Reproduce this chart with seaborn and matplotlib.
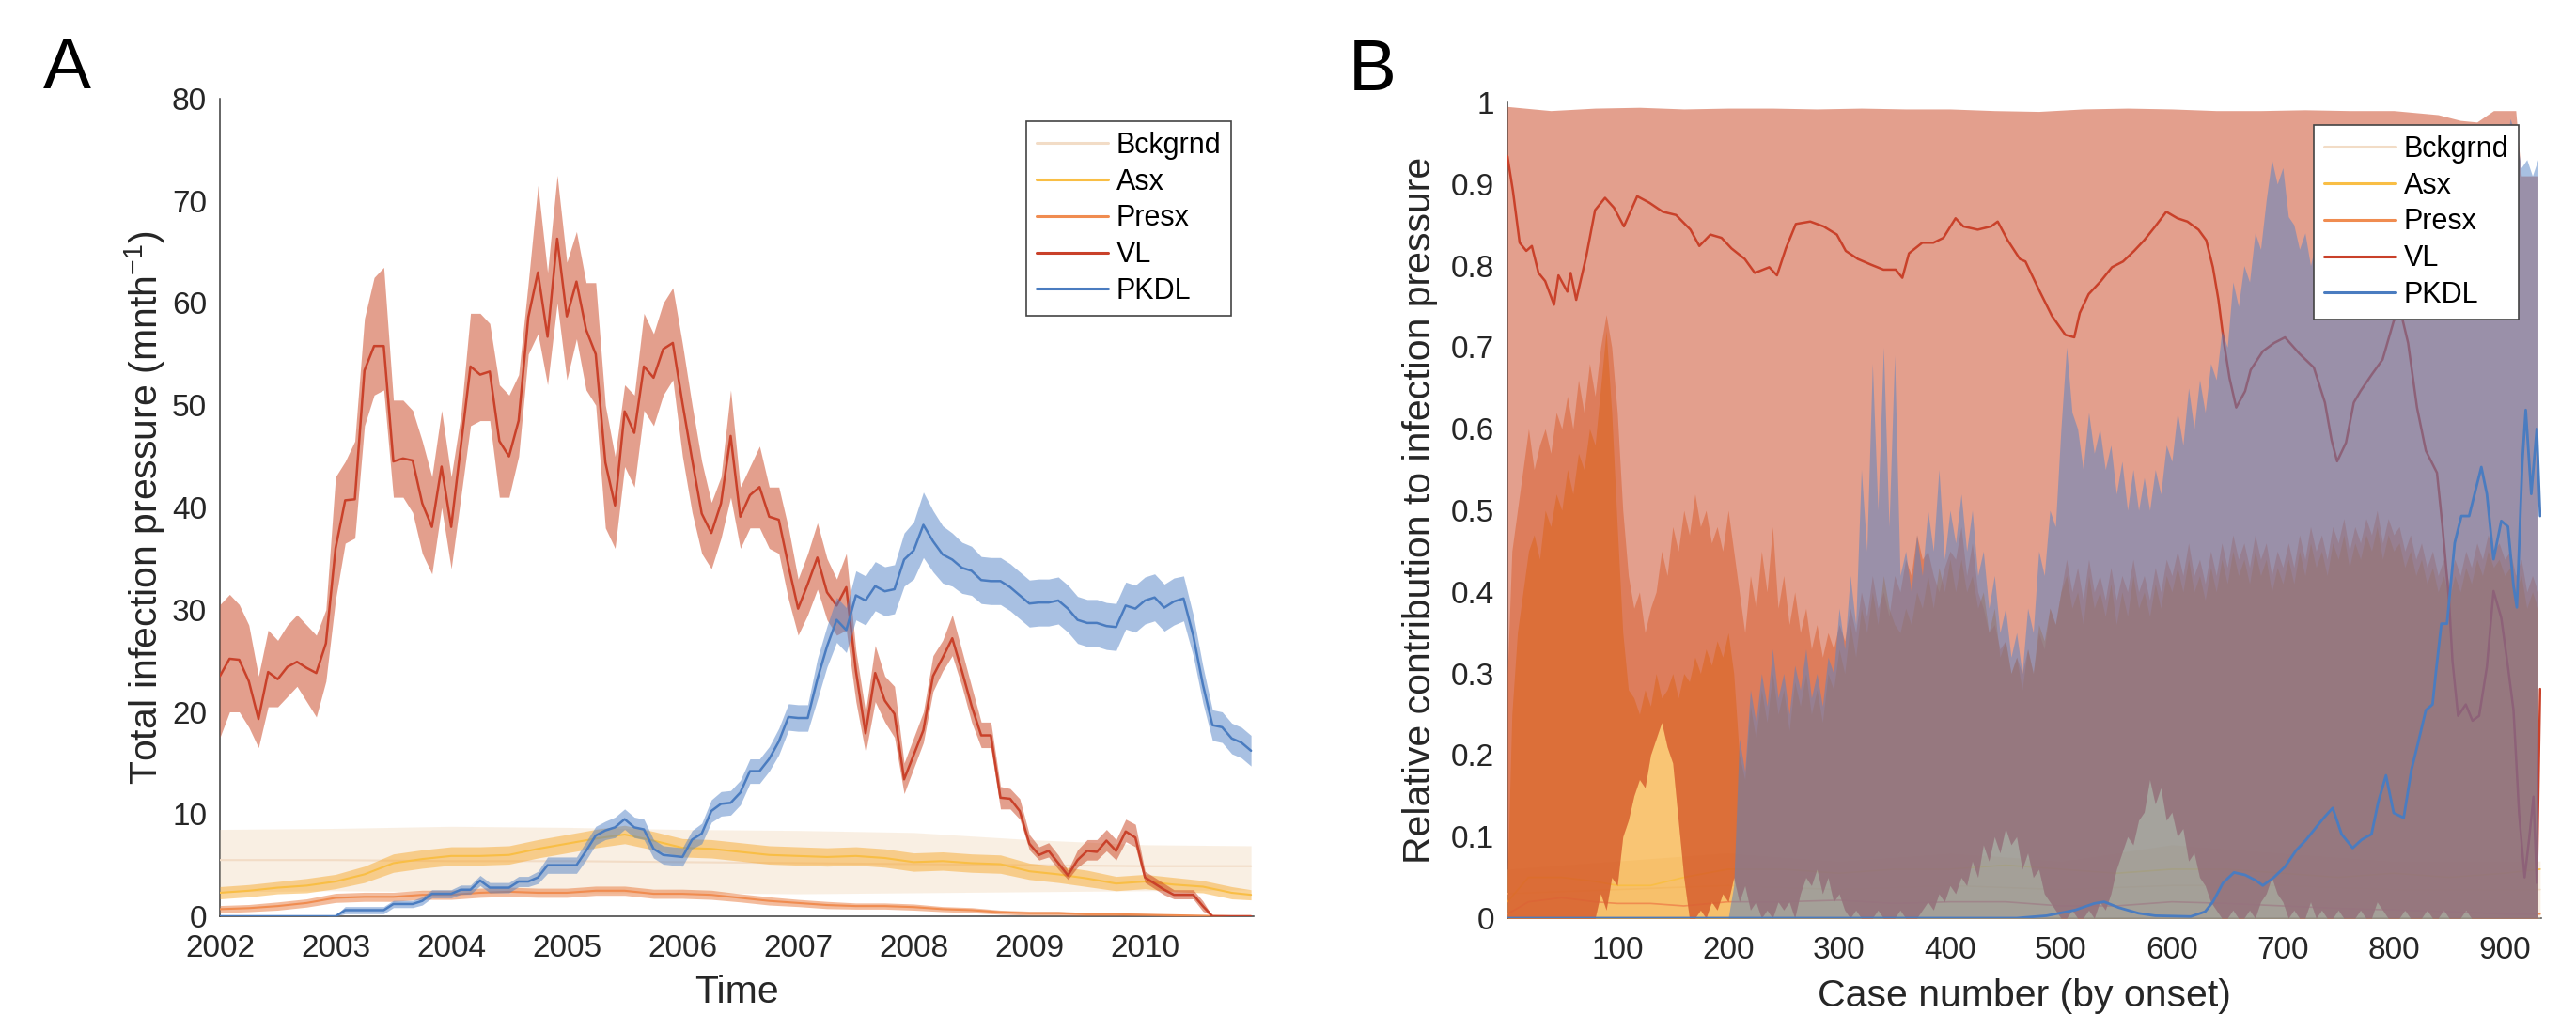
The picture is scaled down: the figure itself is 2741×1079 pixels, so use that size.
import numpy as np
import pandas as pd
import matplotlib
matplotlib.use("Agg")
import matplotlib.pyplot as plt
import seaborn as sns
from matplotlib.lines import Line2D

sns.set_theme(style="white")
plt.rcParams['font.family'] = ['Liberation Sans', 'DejaVu Sans']
plt.rcParams['mathtext.default'] = 'regular'

# ---------------- Panel A data (monthly, Jan 2002 .. Dec 2010) ----------------
month = list(range(108))
vl_mean = [23.5, 25.2, 25.1, 23.0, 19.3, 23.9, 23.2, 24.4, 24.9, 24.3, 23.8, 26.7,
           36.0, 40.7, 40.8, 53.4, 55.8, 55.8, 44.5, 44.8, 44.6, 40.4, 38.1, 44.0,
           38.1, 46.0, 53.8, 53.0, 53.3, 46.5, 45.0, 48.5, 58.6, 63.0, 56.7, 66.3,
           58.7, 62.1, 57.4, 55.0, 44.4, 40.2, 49.4, 47.3, 53.8, 52.7, 55.5, 56.1,
           50.2, 44.7, 39.4, 37.5, 40.4, 47.0, 39.1, 41.2, 42.0, 39.1, 38.8, 34.3,
           30.1, 32.5, 35.1, 31.7, 30.4, 32.2, 24.0, 17.9, 23.8, 21.1, 19.8, 13.4,
           15.8, 18.2, 23.5, 25.3, 27.2, 24.0, 20.6, 17.7, 17.7, 11.6, 11.5, 10.3,
           7.1, 6.0, 6.4, 5.2, 4.0, 5.5, 6.4, 6.3, 7.4, 6.4, 8.3, 7.7,
           3.8, 3.2, 2.6, 2.1, 2.1, 2.1, 1.0, 0, 0, 0, 0, 0]
vl_lo = [17.5, 20, 20, 18.5, 16.5, 20.5, 20.5, 21.5, 22.5, 21, 19.5, 23,
         31, 36.5, 37, 48, 51, 51.5, 41, 41, 39.5, 35.5, 33.5, 40,
         34, 41, 48, 48.5, 48.5, 41, 41, 45, 55, 57, 52, 60,
         52.5, 56.5, 51.5, 50, 38, 36, 44, 42, 49.5, 48, 51, 52.5,
         45, 39.5, 35.5, 34, 37, 41, 36, 38, 38, 36, 35.5, 31,
         27.5, 29.5, 32, 29, 27.5, 28, 21, 16, 21, 19, 17.5, 12,
         14.5, 17, 22, 24, 25.5, 22.5, 19, 16.5, 16.5, 10.5, 10.5, 9.5,
         6.5, 5.5, 5.8, 4.6, 3.6, 4.8, 5.5, 5.5, 6.4, 5.5, 7.3, 6.8,
         3.3, 2.7, 2.1, 1.7, 1.7, 1.7, 0.5, 0, 0, 0, 0, 0]
vl_hi = [30.5, 31.5, 30.5, 28.5, 23.5, 28, 27, 28.5, 29.5, 28.5, 27.5, 30,
         43, 44.5, 46.5, 58.5, 62.5, 63.5, 50.5, 50.5, 49.5, 46.5, 43, 49.5,
         43, 49, 59, 59, 58, 52, 51, 53, 62, 71.5, 63, 72.5,
         64, 67, 62, 62, 50, 45, 52, 51, 59, 57, 60, 61.5,
         56, 50, 44.5, 40.5, 43, 51.5, 42, 44, 46, 42, 42, 38,
         33, 35.5, 38.5, 35, 33, 35.5, 26, 20, 26.5, 23.5, 22.5, 15,
         17.5, 20, 25.5, 27, 29.5, 26, 22.5, 19, 19, 12.7, 12.5, 11.5,
         8, 6.8, 7.2, 6, 4.5, 6.5, 7.5, 7.5, 8.5, 7.5, 9.5, 9,
         4.4, 3.8, 3.2, 2.6, 2.6, 2.6, 1.5, 0, 0, 0, 0, 0]
pk_mean = [0, 0, 0, 0, 0, 0, 0, 0, 0, 0, 0, 0,
           0, 0.6, 0.6, 0.6, 0.6, 0.6, 1.2, 1.2, 1.2, 1.5, 2.2, 2.2,
           2.2, 2.6, 2.6, 3.5, 2.8, 2.8, 2.8, 3.4, 3.4, 3.8, 5.0, 5.0,
           5.0, 5.0, 6.4, 7.9, 8.4, 8.7, 9.5, 8.7, 8.5, 6.6, 6.0, 5.9,
           5.8, 7.5, 8.1, 10.3, 11.0, 11.1, 12.1, 14.2, 14.2, 15.4, 17.1, 19.5,
           19.4, 19.4, 23.2, 26.4, 29.0, 28.0, 31.4, 30.9, 32.3, 31.8, 32.0, 34.9,
           35.8, 38.3, 36.7, 35.4, 34.9, 34.1, 33.8, 32.9, 32.8, 32.8, 32.2, 31.4,
           30.6, 30.7, 30.7, 30.9, 30.1, 29.0, 28.7, 28.7, 28.4, 28.3, 30.4, 30.1,
           30.9, 31.2, 30.2, 30.8, 31.1, 27.5, 22.7, 18.7, 18.5, 17.4, 17.0, 16.2]
pk_hw = [0, 0, 0, 0, 0, 0, 0, 0, 0, 0, 0, 0,
         0.1, 0.35, 0.35, 0.35, 0.35, 0.35, 0.35, 0.35, 0.35, 0.4, 0.4, 0.4,
         0.4, 0.45, 0.45, 0.5, 0.5, 0.5, 0.5, 0.5, 0.5, 0.6, 0.8, 0.8,
         0.8, 0.8, 0.9, 0.9, 0.9, 1.0, 1.0, 1.0, 1.0, 0.9, 0.9, 0.9,
         0.9, 0.9, 1.0, 1.1, 1.2, 1.2, 1.2, 1.2, 1.2, 1.2, 1.3, 1.3,
         1.3, 1.3, 2.0, 2.0, 2.2, 2.2, 2.4, 2.4, 2.4, 2.4, 2.4, 2.6,
         2.8, 3.2, 3.0, 2.8, 2.6, 2.5, 2.4, 2.3, 2.3, 2.3, 2.3, 2.3,
         2.3, 2.3, 2.3, 2.3, 2.3, 2.3, 2.3, 2.3, 2.3, 2.3, 2.3, 2.3,
         2.3, 2.3, 2.3, 2.3, 2.2, 2.0, 1.8, 1.5, 1.5, 1.5, 1.5, 1.5]

month_q = [0, 3, 6, 9, 12, 15, 18, 21, 24, 27, 30, 33, 36, 39, 42, 45, 48, 51, 54,
           57, 60, 63, 66, 69, 72, 75, 78, 81, 84, 87, 90, 93, 96, 99, 102, 105, 107]
asx_mean = [2.3, 2.5, 2.8, 3.0, 3.4, 4.1, 5.2, 5.6, 5.9, 5.9, 6.0, 6.6, 7.1, 7.6, 8.0, 7.4,
            6.7, 6.6, 6.3, 6.0, 5.9, 5.8, 5.9, 5.7, 5.3, 5.4, 5.2, 5.1, 4.4, 4.1, 3.7, 3.2,
            3.4, 3.1, 2.9, 2.3, 2.1]
asx_hw = [0.6, 0.6, 0.6, 0.7, 0.7, 0.8, 0.9, 0.9, 0.9, 0.9, 0.9, 0.9, 0.9, 0.9, 0.9, 0.9,
          0.9, 0.9, 0.9, 0.9, 0.9, 0.9, 0.9, 0.9, 0.9, 0.9, 0.9, 0.9, 0.8, 0.8, 0.8, 0.7,
          0.7, 0.7, 0.6, 0.6, 0.5]
presx_mean = [0.7, 0.8, 1.0, 1.3, 1.8, 1.9, 1.9, 2.1, 2.1, 2.3, 2.4, 2.3, 2.3, 2.5, 2.5, 2.2,
              2.2, 2.1, 1.8, 1.5, 1.3, 1.1, 1.0, 1.0, 0.9, 0.7, 0.6, 0.4, 0.3, 0.3, 0.2, 0.2,
              0.15, 0.1, 0.05, 0.0, 0.0]
presx_hw = [0.35, 0.35, 0.4, 0.4, 0.45, 0.45, 0.45, 0.45, 0.45, 0.45, 0.45, 0.45, 0.45, 0.45,
            0.45, 0.45, 0.45, 0.45, 0.4, 0.4, 0.35, 0.35, 0.3, 0.3, 0.3, 0.25, 0.25, 0.2, 0.2,
            0.2, 0.15, 0.15, 0.1, 0.1, 0.05, 0.0, 0.0]

month_y = [0, 12, 24, 36, 48, 60, 72, 84, 96, 107]
bg_mean = [5.5, 5.5, 5.4, 5.4, 5.3, 5.2, 5.1, 5.0, 4.9, 4.9]
bg_lo = [2.4, 2.5, 2.4, 2.3, 2.3, 2.2, 2.3, 2.4, 2.5, 2.6]
bg_hi = [8.5, 8.6, 8.8, 8.7, 8.5, 8.4, 8.2, 7.5, 7.0, 6.9]

# ---------------- Panel B data (by case number) ----------------
band_case = [1] + list(range(5, 931, 5))
pkb_hi = ([0.0] * 41 +
          [0.04, 0.22, 0.18, 0.28, 0.24, 0.3, 0.26, 0.33, 0.27, 0.3, 0.25, 0.31, 0.28, 0.33, 0.27, 0.3, 0.26, 0.32, 0.3, 0.38,
           0.33, 0.42, 0.36, 0.55, 0.45, 0.68, 0.5, 0.7, 0.48, 0.69, 0.42, 0.45, 0.4, 0.47, 0.42, 0.5, 0.45, 0.55, 0.44, 0.5,
           0.46, 0.52, 0.45, 0.5, 0.42, 0.45, 0.38, 0.42, 0.35, 0.38, 0.32, 0.35, 0.3, 0.38, 0.35, 0.45, 0.42, 0.5, 0.48, 0.6,
           0.7, 0.62, 0.6, 0.55, 0.62, 0.57, 0.6, 0.55, 0.58, 0.52, 0.56, 0.5, 0.55, 0.5, 0.54, 0.5, 0.55, 0.52, 0.58, 0.56,
           0.62, 0.58, 0.65, 0.6, 0.66, 0.62, 0.68, 0.66, 0.72, 0.7, 0.78, 0.75, 0.8, 0.78, 0.84, 0.82, 0.88, 0.93, 0.9, 0.92,
           0.86, 0.85, 0.82, 0.84, 0.8, 0.83, 0.8, 0.82, 0.8, 0.83, 0.8, 0.84, 0.82, 0.85, 0.83, 0.86, 0.84, 0.86, 0.84, 0.87,
           0.85, 0.87, 0.84, 0.86, 0.85, 0.87, 0.85, 0.88, 0.86, 0.88, 0.87, 0.89, 0.88, 0.9, 0.89, 0.9, 0.92, 0.95, 0.97, 0.93,
           0.98, 0.96, 0.92, 0.93, 0.91, 0.93])
asxb_hi = [0.05, 0.25, 0.35, 0.4, 0.45, 0.47, 0.44, 0.5, 0.48, 0.52, 0.5, 0.55, 0.52, 0.57, 0.55, 0.6, 0.58, 0.65, 0.72, 0.62, 0.48,
           0.35, 0.28, 0.27, 0.25, 0.28, 0.26, 0.3, 0.27, 0.28, 0.3, 0.27, 0.3, 0.29, 0.32, 0.3, 0.33, 0.31, 0.34, 0.32, 0.35,
           0.3, 0.2, 0.17, 0.26, 0.22, 0.28, 0.24, 0.3, 0.25, 0.28, 0.23, 0.29, 0.26, 0.3, 0.25, 0.28, 0.24, 0.3, 0.28, 0.33,
           0.3, 0.36, 0.32, 0.38, 0.35, 0.4, 0.36, 0.42, 0.38, 0.36, 0.35, 0.38, 0.36, 0.4, 0.38, 0.42, 0.38, 0.43, 0.4, 0.44,
           0.4, 0.44, 0.4, 0.42, 0.38, 0.4, 0.35, 0.38, 0.32, 0.34, 0.3, 0.32, 0.28, 0.33, 0.3, 0.36, 0.34, 0.38, 0.36, 0.4,
           0.42, 0.38, 0.4, 0.36, 0.42, 0.38, 0.4, 0.37, 0.41, 0.36, 0.4, 0.37, 0.42, 0.38, 0.4, 0.37, 0.41, 0.38, 0.42, 0.4,
           0.43, 0.4, 0.44, 0.4, 0.42, 0.39, 0.43, 0.4, 0.44, 0.41, 0.45, 0.42, 0.44, 0.41, 0.45, 0.42, 0.44, 0.4, 0.43, 0.41,
           0.44, 0.41, 0.45, 0.42, 0.46, 0.43, 0.45, 0.42, 0.46, 0.44, 0.47, 0.43, 0.46, 0.44, 0.47, 0.45, 0.48, 0.44, 0.47, 0.45,
           0.46, 0.43, 0.45, 0.42, 0.44, 0.41, 0.43, 0.4, 0.42, 0.39, 0.42, 0.4, 0.43, 0.41, 0.44, 0.42, 0.45, 0.43, 0.44, 0.42,
           0.43, 0.4, 0.42, 0.38, 0.4, 0.38]
prb_hi = [0.3, 0.45, 0.5, 0.55, 0.6, 0.55, 0.58, 0.6, 0.57, 0.62, 0.6, 0.64, 0.6, 0.66, 0.62, 0.68, 0.64, 0.7, 0.74, 0.7, 0.62,
          0.5, 0.42, 0.38, 0.4, 0.35, 0.38, 0.4, 0.45, 0.42, 0.48, 0.45, 0.5, 0.47, 0.52, 0.48, 0.5, 0.46, 0.48, 0.45, 0.5,
          0.45, 0.4, 0.35, 0.42, 0.38, 0.45, 0.4, 0.48, 0.38, 0.42, 0.36, 0.4, 0.35, 0.38, 0.33, 0.36, 0.32, 0.35, 0.33, 0.36,
          0.34, 0.38, 0.35, 0.4, 0.37, 0.42, 0.38, 0.4, 0.37, 0.42, 0.4, 0.44, 0.42, 0.47, 0.44, 0.45, 0.42, 0.4, 0.43, 0.45,
          0.44, 0.48, 0.42, 0.46, 0.4, 0.38, 0.35, 0.36, 0.33, 0.34, 0.3, 0.32, 0.3, 0.33, 0.3, 0.35, 0.33, 0.38, 0.36, 0.4,
          0.44, 0.4, 0.43, 0.39, 0.44, 0.4, 0.42, 0.39, 0.43, 0.39, 0.42, 0.4, 0.44, 0.4, 0.42, 0.39, 0.43, 0.4, 0.44, 0.42,
          0.45, 0.42, 0.46, 0.42, 0.44, 0.41, 0.45, 0.42, 0.46, 0.43, 0.47, 0.44, 0.46, 0.43, 0.47, 0.44, 0.46, 0.42, 0.45, 0.43,
          0.46, 0.43, 0.47, 0.44, 0.48, 0.45, 0.47, 0.44, 0.48, 0.46, 0.49, 0.45, 0.48, 0.46, 0.49, 0.47, 0.5, 0.46, 0.49, 0.47,
          0.48, 0.45, 0.47, 0.44, 0.46, 0.43, 0.45, 0.42, 0.44, 0.41, 0.44, 0.42, 0.45, 0.43, 0.46, 0.44, 0.47, 0.45, 0.46, 0.44,
          0.45, 0.42, 0.44, 0.4, 0.42, 0.4]
vlpr_lo = ([0.0] * 17 +
           [0.03, 0.01, 0.05, 0.04, 0.1, 0.12, 0.15, 0.17, 0.16, 0.2, 0.22, 0.24, 0.21, 0.19, 0.12, 0.05, 0.0, 0.0, 0.01, 0.0,
            0.02, 0.01, 0.03, 0.02,
            0.05, 0.02, 0.04, 0.01, 0.02, 0.0, 0.01, 0.0, 0.02, 0.01, 0.02, 0.0, 0.03, 0.05, 0.04, 0.06, 0.03, 0.05, 0.02, 0.03,
            0.01, 0.0, 0.01, 0.0, 0.0, 0.0, 0.01, 0.0, 0.0, 0.0, 0.01, 0.0, 0.0, 0.0, 0.01, 0.02, 0.01, 0.03, 0.02, 0.04,
            0.03, 0.05, 0.04, 0.07, 0.05, 0.09, 0.07, 0.1, 0.08, 0.11, 0.09, 0.1, 0.06, 0.08, 0.05, 0.06, 0.03, 0.02, 0.01, 0.0,
            0.0, 0.01, 0.0, 0.0, 0.01, 0.0, 0.02, 0.01, 0.03, 0.06, 0.08, 0.1, 0.09, 0.12, 0.13, 0.17, 0.14, 0.16, 0.12, 0.13,
            0.1, 0.11, 0.07, 0.08, 0.05, 0.04, 0.02, 0.01, 0.0, 0.0, 0.01, 0.0, 0.0, 0.01, 0.0, 0.02, 0.03, 0.05, 0.03, 0.02,
            0.0, 0.01, 0.0, 0.0, 0.02, 0.0, 0.01, 0.0, 0.0, 0.01, 0.0, 0.0, 0.0, 0.01, 0.0, 0.0, 0.02, 0.01, 0.0, 0.0,
            0.0, 0.01, 0.0, 0.0, 0.0, 0.01, 0.0, 0.0, 0.01, 0.0, 0.0, 0.0, 0.01, 0.0, 0.0, 0.0, 0.0, 0.0, 0.0, 0.0,
            0.0, 0.0, 0.0, 0.0, 0.0, 0.0])

vlhi_case = [1, 40, 80, 120, 160, 200, 240, 280, 320, 360, 400, 440, 480, 520, 560, 600, 640,
             680, 720, 760, 800, 840, 860, 875, 890, 912, 914, 933]
vlb_hi = [0.995, 0.99, 0.993, 0.994, 0.992, 0.993, 0.993, 0.992, 0.993, 0.992, 0.992, 0.99,
          0.989, 0.992, 0.993, 0.992, 0.99, 0.99, 0.991, 0.99, 0.99, 0.985, 0.978, 0.976, 0.99,
          0.99, 0.91, 0.91]

vlb_case = [1, 6, 12, 18, 23, 29, 35, 43, 47, 55, 58, 63, 72, 80, 89, 97, 106, 118, 129, 141,
            153, 166, 174, 184, 194, 203, 215, 224, 237, 244, 252, 261, 274, 286, 298, 306, 317, 329, 340, 351,
            357, 363, 375, 385, 394, 405, 412, 425, 437, 443, 452, 463, 468, 481, 492, 504, 512, 517, 525, 536,
            546, 556, 566, 575, 585, 595, 605, 614, 624, 631, 637, 642, 647, 652, 658, 666, 671, 682, 692, 702,
            715, 728, 738, 744, 749, 757, 764, 770, 780, 790, 800, 806, 813, 821, 829, 839, 844, 850, 853, 858,
            865, 871, 877, 884, 890, 897, 903, 908, 913, 918, 922, 926, 929, 932]
vlb_mean = [0.934, 0.891, 0.828, 0.818, 0.824, 0.791, 0.781, 0.752, 0.788, 0.768,
            0.791, 0.758, 0.811, 0.868, 0.883, 0.871, 0.848, 0.885, 0.877, 0.866,
            0.862, 0.844, 0.824, 0.838, 0.834, 0.821, 0.808, 0.791, 0.798, 0.788,
            0.821, 0.851, 0.854, 0.848, 0.838, 0.818, 0.808, 0.801, 0.795, 0.795,
            0.785, 0.815, 0.828, 0.828, 0.834, 0.858, 0.848, 0.844, 0.848, 0.854,
            0.831, 0.808, 0.805, 0.768, 0.738, 0.715, 0.712, 0.742, 0.765, 0.781,
            0.798, 0.805, 0.818, 0.831, 0.848, 0.866, 0.858, 0.854, 0.844, 0.831,
            0.798, 0.758, 0.705, 0.662, 0.626, 0.646, 0.672, 0.695, 0.705, 0.712,
            0.692, 0.675, 0.632, 0.586, 0.560, 0.583, 0.632, 0.646, 0.666, 0.685,
            0.732, 0.745, 0.705, 0.626, 0.573, 0.546, 0.480, 0.387, 0.315, 0.248,
            0.262, 0.242, 0.248, 0.308, 0.401, 0.368, 0.308, 0.255, 0.129, 0.050,
            0.096, 0.149, 0.043, 0.281]

pkb_case = [1, 460, 487, 513, 530, 539, 552, 570, 585, 617, 630, 637, 646, 656, 666, 676, 682, 692, 702, 712,
            721, 731, 737, 745, 753, 763, 771, 780, 786, 793, 800, 809, 816, 822, 829, 835, 838, 843, 848, 855,
            861, 868, 874, 879, 884, 890, 897, 903, 908, 911, 916, 919, 924, 929, 932]
pkb_mean = [0, 0, 0.003, 0.01, 0.018, 0.02, 0.013, 0.006, 0.003, 0.002, 0.008, 0.02, 0.043, 0.056, 0.053, 0.046,
            0.04, 0.05, 0.063, 0.083, 0.096, 0.113, 0.123, 0.135, 0.103, 0.086, 0.096, 0.103, 0.142, 0.175,
            0.129, 0.123, 0.182, 0.215, 0.255, 0.262, 0.301, 0.361, 0.361, 0.46, 0.493, 0.493, 0.526, 0.553,
            0.52, 0.44, 0.487, 0.48, 0.407, 0.381, 0.56, 0.623, 0.52, 0.6, 0.493]

small_case = [1, 20, 50, 80, 100, 130, 160, 200, 250, 300, 350, 400, 450, 500, 550, 600, 650, 700, 750, 800, 850, 900, 932]
asxb_mean = [0.02, 0.05, 0.05, 0.045, 0.04, 0.04, 0.05, 0.06, 0.06, 0.055, 0.06, 0.06, 0.065, 0.06, 0.055, 0.06,
             0.06, 0.055, 0.05, 0.055, 0.05, 0.055, 0.06]
prb_mean = [0.005, 0.02, 0.025, 0.02, 0.018, 0.018, 0.015, 0.02, 0.02, 0.022, 0.018, 0.02, 0.02, 0.015, 0.015,
            0.02, 0.018, 0.015, 0.012, 0.01, 0.008, 0.005, 0.005]
bgb_case = [1, 100, 200, 300, 400, 500, 600, 700, 800, 900, 932]
bgb_mean = [0.03, 0.035, 0.04, 0.035, 0.04, 0.035, 0.04, 0.04, 0.035, 0.035, 0.035]
bgb_hi = [0.06, 0.07, 0.08, 0.07, 0.08, 0.07, 0.09, 0.08, 0.07, 0.07, 0.07]

labels = ['Bckgrnd', 'Asx', 'Presx', 'VL', 'PKDL']
year_ticks = [2002, 2003, 2004, 2005, 2006, 2007, 2008, 2009, 2010]
case_ticks = [100, 200, 300, 400, 500, 600, 700, 800, 900]
frac_ticks = [0, 0.1, 0.2, 0.3, 0.4, 0.5, 0.6, 0.7, 0.8, 0.9, 1]
frac_labels = ['0', '0.1', '0.2', '0.3', '0.4', '0.5', '0.6', '0.7', '0.8', '0.9', '1']

# ---------------- styles ----------------
line_col = {'Bckgrnd': '#F2DCC6', 'Asx': '#F9BE45', 'Presx': '#F08C50', 'VL': '#C9412A', 'PKDL': '#4A7CC0'}
band_col = {'Bckgrnd': '#F5E1C8', 'Asx': '#F7AA32', 'Presx': '#E8783A', 'VL': '#C9411D', 'PKDL': '#5282C6'}
band_alpha = {'Bckgrnd': 0.5, 'Asx': 0.5, 'Presx': 0.5, 'VL': 0.5, 'PKDL': 0.5}
TXT = '#262626'
FS_TICK, FS_LAB, FS_LEG = 24, 29.5, 22

W, H = 2741, 1079
fig = plt.figure(figsize=(W / 100, H / 100), dpi=100)
axA = fig.add_axes([234 / W, 1 - 975 / H, 1100 / W, 870 / H])
axB = fig.add_axes([1604 / W, 1 - 977 / H, 1100 / W, 868 / H])

_z = [1.0]


def nextz():
    _z[0] += 0.05
    return _z[0]


def tyear(m):
    return 2002 + np.asarray(m, dtype=float) / 12.0


def band(ax, x, lo, hi, key, alpha=None):
    ax.fill_between(x, lo, hi, color=band_col[key], alpha=band_alpha[key] if alpha is None else alpha,
                    lw=0, zorder=nextz())


def line(ax, x, y, key, lw):
    sns.lineplot(x=np.asarray(x, dtype=float), y=np.asarray(y, dtype=float), ax=ax,
                 color=line_col[key], lw=lw, legend=False, sort=False, estimator=None,
                 zorder=nextz())


# ---------- Panel A ----------
tq = tyear(month_q)
band(axA, tyear(month_y), bg_lo, bg_hi, 'Bckgrnd')
line(axA, tyear(month_y), bg_mean, 'Bckgrnd', 1.5)
band(axA, tq, np.array(asx_mean) - np.array(asx_hw), np.array(asx_mean) + np.array(asx_hw), 'Asx')
line(axA, tq, asx_mean, 'Asx', 1.5)
band(axA, tq, np.clip(np.array(presx_mean) - np.array(presx_hw), 0, None),
     np.array(presx_mean) + np.array(presx_hw), 'Presx')
line(axA, tq, presx_mean, 'Presx', 1.5)
tm = tyear(month)
band(axA, tm, vl_lo, vl_hi, 'VL')
line(axA, tm, vl_mean, 'VL', 1.8)
band(axA, tm, np.clip(np.array(pk_mean) - np.array(pk_hw), 0, None),
     np.array(pk_mean) + np.array(pk_hw), 'PKDL')
line(axA, tm, pk_mean, 'PKDL', 1.8)

axA.set_xlim(2002, 2010.94)
axA.set_ylim(0, 80)
axA.set_xticks(year_ticks)
axA.set_xticklabels([str(y) for y in year_ticks])
axA.set_yticks(list(range(0, 81, 10)))
axA.set_xlabel('Time', fontsize=FS_LAB, color=TXT)
axA.set_ylabel('Total infection pressure (mnth$^{-1}$)', fontsize=FS_LAB, color=TXT)
axA.xaxis.set_label_coords(0.5, -0.093)
axA.xaxis.label.set_va('center')
axA.yaxis.set_label_coords(-0.0727, 0.5)
axA.yaxis.label.set_va('center')

# ---------- Panel B ----------
_z[0] = 1.0
bc = np.array(band_case, dtype=float)
band(axB, bgb_case, np.zeros(len(bgb_case)), bgb_hi, 'Bckgrnd')
line(axB, bgb_case, bgb_mean, 'Bckgrnd', 1.2)
band(axB, bc, np.zeros(len(bc)), asxb_hi, 'Asx', alpha=0.68)
line(axB, small_case, asxb_mean, 'Asx', 1.2)
band(axB, bc, vlpr_lo, prb_hi, 'Presx')
line(axB, small_case, prb_mean, 'Presx', 1.2)
vl_hi_interp = np.interp(bc, vlhi_case, vlb_hi)
band(axB, bc, vlpr_lo, vl_hi_interp, 'VL')
line(axB, vlb_case, vlb_mean, 'VL', 1.8)
band(axB, bc, np.zeros(len(bc)), pkb_hi, 'PKDL')
line(axB, pkb_case, pkb_mean, 'PKDL', 2.0)

axB.set_xlim(1, 933)
axB.set_ylim(0, 1)
axB.set_xticks(case_ticks)
axB.set_xticklabels([str(c) for c in case_ticks])
axB.set_yticks(frac_ticks)
axB.set_yticklabels(frac_labels)
axB.set_xlabel('Case number (by onset)', fontsize=FS_LAB, color=TXT)
axB.set_ylabel('Relative contribution to infection pressure', fontsize=FS_LAB, color=TXT)
axB.xaxis.set_label_coords(0.5, -0.0956)
axB.xaxis.label.set_va('center')
axB.yaxis.set_label_coords(-0.0845, 0.5)
axB.yaxis.label.set_va('center')

for ax in (axA, axB):
    ax.set_facecolor('white')
    for s in ('top', 'right'):
        ax.spines[s].set_visible(False)
    for s in ('left', 'bottom'):
        ax.spines[s].set_color('#3a3a3a')
        ax.spines[s].set_linewidth(1.1)
        ax.spines[s].set_zorder(0.5)
    ax.tick_params(axis='both', direction='in', length=8, width=1.0, color='#3a3a3a',
                   labelcolor=TXT, labelsize=FS_TICK)
    ax.tick_params(axis='y', pad=10)
    ax.tick_params(axis='x', pad=14)
    ax.grid(False)

handles = [Line2D([0], [0], color=line_col[k], lw=2.2) for k in labels]
for ax, (xr, yt) in ((axA, (1310, 129)), (axB, (2680, 133))):
    leg = ax.legend(handles, labels, loc='upper right', bbox_to_anchor=(xr / W, 1 - yt / H),
                    bbox_transform=fig.transFigure, borderaxespad=0, frameon=True, fancybox=False,
                    fontsize=FS_LEG, handlelength=2.5, handletextpad=0.28, labelspacing=0.29,
                    borderpad=0.35, framealpha=1)
    leg.set_zorder(10)
    leg.get_frame().set_edgecolor('#444444')
    leg.get_frame().set_linewidth(1.2)
    for t in leg.get_texts():
        t.set_color('black')

fig.text(71 / W, 1 - 74 / H, 'A', fontsize=55, ha='center', va='center', color='black')
fig.text(1460 / W, 1 - 76 / H, 'B', fontsize=55, ha='center', va='center', color='black')

fig.savefig('out.png', dpi=100, facecolor='white')
